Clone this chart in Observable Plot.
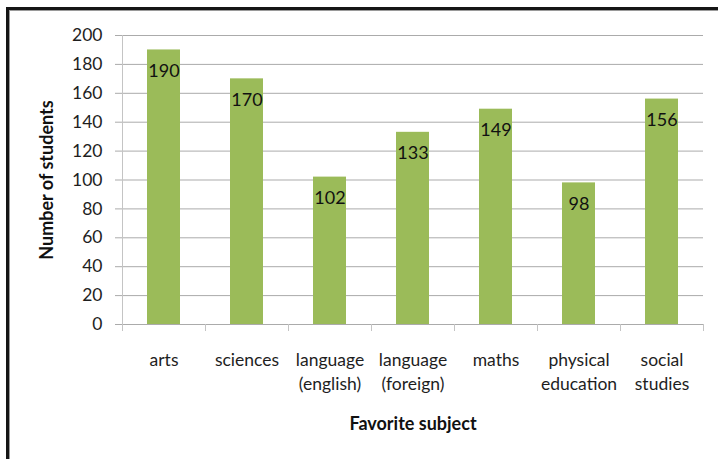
<!DOCTYPE html>
<html>
<head>
<meta charset="utf-8">
<script src="https://cdn.jsdelivr.net/npm/d3@7"></script>
<script src="https://cdn.jsdelivr.net/npm/@observablehq/plot@0.6"></script>
<style>
  html, body { margin: 0; padding: 0; background: #fff; overflow: hidden; }
  #wrap { position: relative; width: 718px; height: 459px; }
  #frame { position: absolute; left: 6px; top: 7px; width: 800px; height: 600px;
           border-left: 3px solid #151515; border-top: 3px solid #151515;
           box-shadow: inset 1px 1px 0 #9a9a9a; pointer-events: none; }
  #chart { position: absolute; left: 0; top: 0; }
</style>
</head>
<body>
<div id="wrap"><div id="chart"></div><div id="frame"></div></div>
<script>
const subjects = ["arts", "sciences", "language (english)", "language (foreign)", "maths", "physical education", "social studies"];
const tickLabels = ["arts", "sciences", "language\n(english)", "language\n(foreign)", "maths", "physical\neducation", "social\nstudies"];
const students = [190, 170, 102, 133, 149, 98, 156];
const yTicks = [0, 20, 40, 60, 80, 100, 120, 140, 160, 180, 200];
const xTitle = "Favorite subject";
const yTitle = "Number of students";

const data = subjects.map((s, i) => ({subject: s, value: students[i]}));
const labelOf = new Map(subjects.map((s, i) => [s, tickLabels[i]]));

const W = 718, H = 459;
const mL = 122, mR = 15, mT = 35, mB = 135;
const step = (W - mL - mR) / subjects.length;
const grid = "#ababab";
const axisLine = "#c4c4c4";
const ink = "#1e1e1e";
const font = "Lato, sans-serif";

const chart = Plot.plot({
  width: W,
  height: H,
  marginLeft: mL,
  marginRight: mR,
  marginTop: mT,
  marginBottom: mB,
  style: {fontFamily: font, background: "transparent"},
  x: {domain: subjects, paddingInner: 0.6, paddingOuter: 0.3, label: null},
  y: {domain: [0, 200], label: null},
  marks: [
    Plot.gridY(yTicks, {stroke: grid, strokeOpacity: 1}),
    Plot.axisY(yTicks, {tickSize: 7, tickPadding: 13, stroke: grid, fill: ink, fontSize: 17.5, label: null}),
    Plot.frame({anchor: "left", stroke: axisLine}),
    Plot.ruleY([0], {stroke: grid, insetLeft: -7}),
    Plot.axisX({tickSize: 7, text: null, stroke: axisLine, dx: -step / 2, label: null}),
    Plot.axisX([subjects[subjects.length - 1]], {tickSize: 7, text: null, stroke: axisLine, dx: step / 2, label: null}),
    Plot.axisX({tickSize: 0, tickPadding: 25, tickFormat: d => labelOf.get(d), fill: ink, fontSize: 17.5, lineHeight: 1.35, label: null}),
    Plot.barY(data, {x: "subject", y: "value", fill: "#9bbb59"}),
    Plot.text(data, {x: "subject", y: "value", text: d => String(d.value), dy: 21, fill: "#111", fontSize: 18}),
    Plot.text([xTitle], {frameAnchor: "bottom", lineAnchor: "middle", dy: 100, fontWeight: "bold", fontSize: 18, fill: "#111"}),
    Plot.text([yTitle], {frameAnchor: "left", textAnchor: "middle", dx: -75, rotate: -90, fontWeight: "bold", fontSize: 18, fill: "#111"})
  ]
});
document.getElementById("chart").appendChild(chart);
</script>
</body>
</html>
